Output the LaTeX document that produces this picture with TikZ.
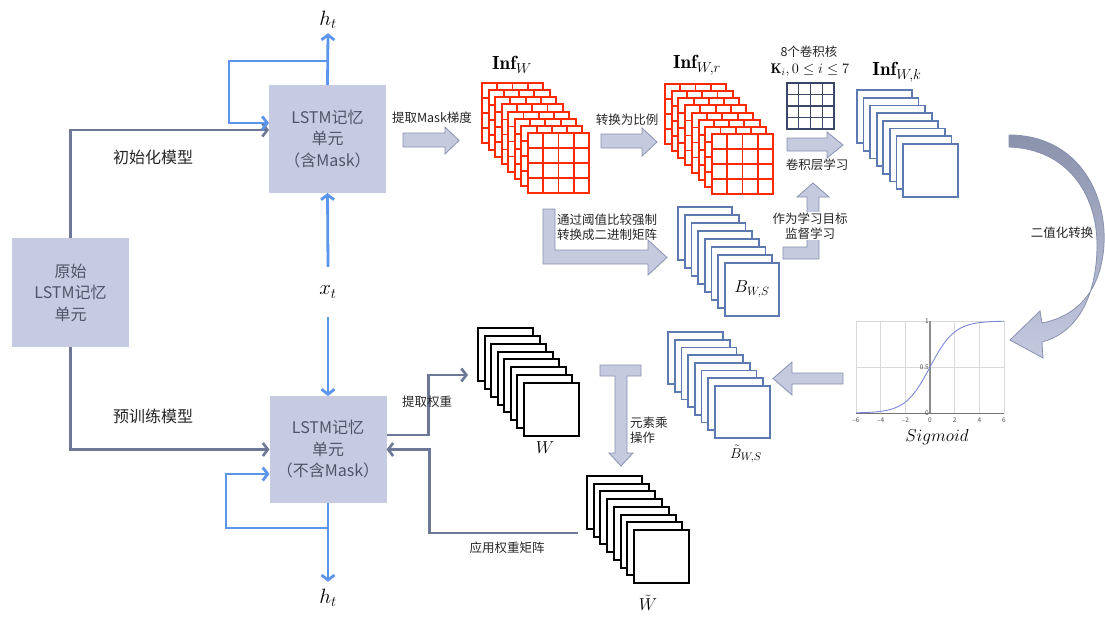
\documentclass[tikz,border=0pt]{standalone}
\usepackage{fontspec}
\newfontfamily\cjk{Noto Sans CJK SC}
\usetikzlibrary{arrows.meta,calc}
\definecolor{boxfill}{HTML}{C6CBE1}
\definecolor{boxtext}{HTML}{4F5567}
\definecolor{glinec}{HTML}{6D7897}
\definecolor{blinec}{HTML}{5B96EC}
\definecolor{afill}{HTML}{C5CADF}
\definecolor{aedge}{HTML}{8891AE}
\definecolor{infred}{HTML}{FF2A00}
\definecolor{fblue}{HTML}{5C79B2}
\definecolor{knavy}{HTML}{3C4768}
\definecolor{sigc}{HTML}{7C87D8}
\definecolor{cdark}{HTML}{8A92AC}
\newcommand\fstack[9]{%
  \foreach \i in {0,...,7}{%
    \node[#8,minimum width=#4pt,minimum height=#5pt,anchor=north west] (#1-\i) at ({#2+\i*#6},{#3+\i*#7}) {};
    \ifnum#9=1
      \foreach \j in {1,2,3}{%
        \draw[redgrid] ($(#1-\i.north west)!\j/4!(#1-\i.north east)$) -- ($(#1-\i.south west)!\j/4!(#1-\i.south east)$);
        \draw[redgrid] ($(#1-\i.north west)!\j/4!(#1-\i.south west)$) -- ($(#1-\i.north east)!\j/4!(#1-\i.south east)$);
      }%
    \fi
  }%
}
\tikzset{
  lstm/.style={fill=boxfill, minimum width=117pt, minimum height=108pt, inner sep=0, outer sep=0, text=boxtext, font=\cjk\fontsize{16}{21.5}\selectfont, align=center},
  gconn/.style={draw=glinec, line width=2.6pt, -{Straight Barb[length=5pt,width=13pt]}},
  gplain/.style={draw=glinec, line width=2.6pt},
  bconn/.style={draw=blinec, line width=2.8pt, -{Straight Barb[length=5pt,width=13pt]}},
  bplain/.style={draw=blinec, line width=2.8pt},
  blockarrow/.style={fill=afill, draw=aedge, line width=0.8pt, line join=miter},
  lbl/.style={font=\cjk\fontsize{12.5}{15}\selectfont, text=black!85, inner sep=1pt, align=center},
  biglbl/.style={font=\cjk\fontsize{16}{19}\selectfont, text=black!85, inner sep=1pt},
  redframe/.style={draw=infred, fill=white, line width=2pt, inner sep=0, outer sep=0},
  redgrid/.style={draw=infred, line width=1.8pt},
  blueframe/.style={draw=fblue, fill=white, line width=1.6pt, inner sep=0, outer sep=0},
  blackframe/.style={draw=black, fill=white, line width=2pt, inner sep=0, outer sep=0},
  mathlbl/.style={inner sep=0, font=\fontsize{19}{22}\selectfont},
  ticklbl/.style={inner sep=0, font=\cjk\fontsize{6.5}{7}\selectfont, text=black!70}
}
\begin{document}
\begin{tikzpicture}[x=1pt,y=-1pt]
\useasboundingbox (0,0) rectangle (1105,616);
% ---------- LSTM boxes ----------
\node[lstm, minimum width=117pt, minimum height=109pt] (orig) at (70.5,292.5) {原始\\LSTM记忆\\单元};
\node[lstm] (mask) at (327.5,139) {LSTM记忆\\单元\\（含Mask）};
\node[lstm, minimum height=107pt] (plain) at (328,449.5) {LSTM记忆\\单元\\（不含Mask）};
% gray connectors
\draw[gconn] (orig.north) |- ([yshift=9pt]mask.west);
\draw[gconn] (orig.south) |- (plain.west);
\node[biglbl] (linit) at (153,157) {初始化模型};
\node[biglbl] (lpre) at (153,416) {预训练模型};
% blue connectors
\node[inner sep=0, minimum height=26pt, font=\fontsize{20}{22}\selectfont] (ht1) at (328,20) {$h_t$};
\node[inner sep=0, minimum height=50pt, font=\fontsize{20}{22}\selectfont] (xt) at (328,292) {$x_t$};
\node[inner sep=0, minimum height=32pt, font=\fontsize{20}{22}\selectfont] (ht2) at (328,598) {$h_t$};
\coordinate (j1) at (328,61);
\coordinate (c1) at (229,61);
\draw[bconn] (mask.north) -- (ht1.south);
\draw[bconn] (j1) -- (c1) |- ([yshift=16pt]mask.west);
\draw[bconn] (xt.north) -- (mask.south);
\draw[bconn] (xt.south) -- (plain.north);
\coordinate (j2) at (328,528);
\coordinate (c2) at (226,528);
\draw[bconn] (plain.south) -- (ht2.north);
\draw[bconn] (j2) -- (c2) |- ([yshift=-24.5pt]plain.west);
% ---------- stacks ----------
\fstack{infw}{482}{83}{61}{60}{6.57}{7.14}{redframe}{1}
\fstack{infr}{665}{84}{61}{60}{6.71}{7.14}{redframe}{1}
\fstack{infk}{857}{90}{55}{53}{6.57}{7.71}{blueframe}{0}
\fstack{bws}{678}{207}{54}{53}{6.71}{8}{blueframe}{0}
\fstack{bt}{668}{332}{55}{52}{6.71}{7.71}{blueframe}{0}
\fstack{w}{478}{328}{55}{53}{6.57}{7.86}{blackframe}{0}
\fstack{wt}{587}{476}{55}{53}{6.71}{7.71}{blackframe}{0}
\node[mathlbl] (linfw) at (512,65) {$\mathbf{Inf}_{W}$};
\node[mathlbl] (linfr) at (697,65) {$\mathbf{Inf}_{W,r}$};
\node[mathlbl] (linfk) at (897,72) {$\mathbf{Inf}_{W,k}$};
\node[inner sep=0, font=\fontsize{17}{20}\selectfont] (lbws) at (bws-7) {$B_{W,S}$};
\node[inner sep=0, font=\fontsize{15}{18}\selectfont] (lbt) at (746,454) {$\tilde{B}_{W,S}$};
\node[inner sep=0, font=\fontsize{17}{20}\selectfont] (lw) at (545,448) {$W$};
\node[inner sep=0, font=\fontsize{17}{20}\selectfont] (lwt) at (648,603) {$\tilde{W}$};
% kernel
\node[draw=knavy, line width=1.6pt, fill=white, minimum width=47pt, minimum height=46pt, inner sep=0, outer sep=0, anchor=north west] (kern) at (787,83) {};
\foreach \j in {1,2,3}{
  \draw[knavy, line width=1.4pt] ($(kern.north west)!\j/4!(kern.north east)$) -- ($(kern.south west)!\j/4!(kern.south east)$);
  \draw[knavy, line width=1.4pt] ($(kern.north west)!\j/4!(kern.south west)$) -- ($(kern.north east)!\j/4!(kern.south east)$);
}
\node[lbl] (lk1) at (809,52) {8个卷积核};
\node[inner sep=0, font=\fontsize{14}{16}\selectfont] (lk2) at (810,70) {$\mathbf{K}_i, 0\leq i\leq 7$};
% ---------- block arrows ----------
\draw[blockarrow] (403,133) -- (445,133) -- (445,127) -- (459,140.5) -- (445,154) -- (445,147) -- (403,147) -- cycle;
\node[lbl] (l1) at (432,118) {提取Mask梯度};
\draw[blockarrow] (601,134) -- (642,134) -- (642,128) -- (657,142) -- (642,156) -- (642,148) -- (601,148) -- cycle;
\node[lbl] (l2) at (627,120) {转换为比例};
\draw[blockarrow] (787,138) -- (827,138) -- (827,132) -- (843,145) -- (827,158) -- (827,151) -- (787,151) -- cycle;
\node[lbl] (l3) at (817,165) {卷积层学习};
\draw[blockarrow] (543,209) -- (555,209) -- (555,250) -- (648,250) -- (648,240) -- (667,257.5) -- (648,275) -- (648,264) -- (543,264) -- cycle;
\node[lbl, align=left, anchor=west] (l4) at (556,227) {通过阈值比较强制\\转换成二进制矩阵};
\draw[blockarrow] (783,247) -- (807,247) -- (807,197) -- (797,197) -- (813,183) -- (829,197) -- (819,197) -- (819,259) -- (783,259) -- cycle;
\node[lbl, fill=white] (l5) at (810,226) {作为学习目标\\监督学习};
\draw[blockarrow] (843,373) -- (792,373) -- (792,362) -- (773,378.5) -- (792,395) -- (792,384) -- (843,384) -- cycle;
\draw[blockarrow] (600,365) -- (641,365) -- (641,376) -- (627,376) -- (627,453) -- (633,453) -- (621,466) -- (609,453) -- (615,453) -- (615,376) -- (600,376) -- cycle;
\node[lbl, align=left, anchor=west] (l6) at (629,430) {元素乘\\操作};
% curved arrow
\path[top color=cdark, bottom color=afill, draw=aedge, line width=0.8pt]
  (1009,135) .. controls (1075,135) and (1107,190) .. (1104,245)
  .. controls (1101,290) and (1078,316) .. (1042,323)
  -- (1040,311) -- (1010,340) -- (1043,358) -- (1042,342)
  .. controls (1080,332) and (1097,292) .. (1097,245)
  .. controls (1097,195) and (1068,149) .. (1009,147) -- cycle;
\node[lbl] (l7) at (1062,233) {二值化转换};
% ---------- sigmoid plot ----------
\foreach \k in {-6,-4,...,6}{
  \draw[black!15, line width=0.7pt] ({930+12.33*\k},321) -- ({930+12.33*\k},413);
  \node[ticklbl] at ({930+12.33*\k},420) {\ifnum\k<0 –\the\numexpr-\k\relax\else\k\fi};
}
\foreach \v in {321,367,413}{
  \draw[black!15, line width=0.7pt] (856,\v) -- (1004,\v);
}
\draw[black!55, line width=1pt] (856,413) -- (1004,413);
\draw[black!45, line width=1.5pt] (930,321) -- (930,413);
\draw[sigc, line width=0.9pt] plot[domain=-6:6, samples=80, smooth] ({930+12.33*\x},{413-92/(1+exp(-\x))});
\node[ticklbl, anchor=east] at (929,321) {1};
\node[ticklbl, anchor=east] at (929,367) {0.5};
\node[ticklbl, anchor=east] at (929,413) {0};
\node[inner sep=0, font=\fontsize{18}{20}\selectfont] (lsig) at (937,437) {$Sigmoid$};
% ---------- weight connectors ----------
\coordinate (wtgt) at (468,375);
\coordinate (wtsrc) at (578,533);
\draw[gconn] ([yshift=14.5pt]plain.east) -- ++(42,0) |- (wtgt);
\node[lbl] (l8) at (427,402) {提取权重};
\draw[gplain] (wtsrc) -| ($(plain.east)+(43,0)$);
\draw[gconn] ($(plain.east)+(44.3,0)$) -- (plain.east);
\node[lbl] (l9) at (507,548) {应用权重矩阵};
\end{tikzpicture}
\end{document}
